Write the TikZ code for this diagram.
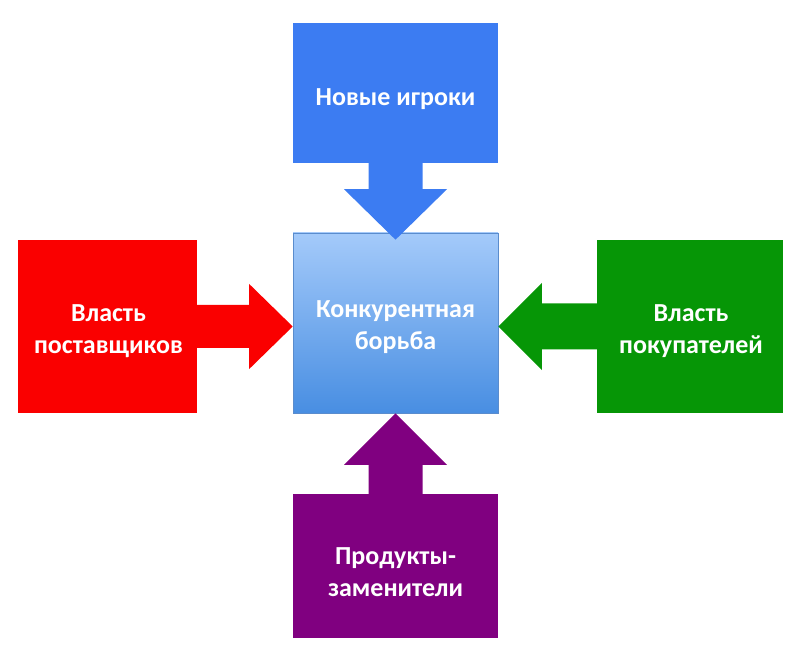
\documentclass[tikz,border=0pt]{standalone}
\usepackage{fontspec}
\setmainfont{Carlito}
\usetikzlibrary{calc}
\definecolor{newblue}{RGB}{60,124,242}
\definecolor{supred}{RGB}{250,0,0}
\definecolor{buygreen}{RGB}{6,150,6}
\definecolor{subpurple}{RGB}{128,0,128}
\definecolor{comptop}{RGB}{164,202,250}
\definecolor{compbot}{RGB}{72,142,226}
\definecolor{compline}{RGB}{90,140,205}
\begin{document}
\begin{tikzpicture}[x=1pt,y=-1pt]
	\tikzset{every node/.style={inner sep=0pt}}
	\tikzset{force/.style={rectangle, minimum width=205pt}}
	\tikzset{lbl/.style={text=white, align=center, font=\fontsize{26}{32}\selectfont\bfseries}}
	\useasboundingbox (0,0) rectangle (806,660);
	% centre
	\node [force, minimum height=180pt, top color=comptop, bottom color=compbot, draw=compline, line width=0.6pt] (comp) at (395.5,323) {};
	% four forces
	\node [force, minimum height=140pt, fill=newblue] (new) at (395.5,93) {};
	\node [force, minimum width=179pt, minimum height=173pt, fill=supred] (sup) at (107.5,326.5) {};
	\node [force, minimum width=186pt, minimum height=173pt, fill=buygreen] (buy) at (690,326.5) {};
	\node [force, minimum height=144pt, fill=subpurple] (sub) at (395.5,566) {};
	% arrows
	\fill [newblue] ($(new.south)+(-27,0)$) -- ++(0,26) -- ++(-24.5,0) -- ($(comp.north)+(0,7)$) -- ($(new.south)+(51.5,26)$) -- ++(-24.5,0) -- ($(new.south)+(27,0)$) -- cycle;
	\fill [supred] ($(sup.east)+(0,-21.5)$) -- ++(52,0) -- ++(0,-21) -- (sup.east -| comp.west) -- ($(sup.east)+(52,42.5)$) -- ++(0,-21) -- ($(sup.east)+(0,21.5)$) -- cycle;
	\fill [buygreen] ($(buy.west)+(0,-23)$) -- ++(-55,0) -- ++(0,-20.5) -- (buy.west -| comp.east) -- ($(buy.west)+(-55,43.5)$) -- ++(0,-20.5) -- ($(buy.west)+(0,23)$) -- cycle;
	\fill [subpurple] ($(sub.north)+(-27,0)$) -- ++(0,-29) -- ++(-24.5,0) -- (comp.south) -- ($(sub.north)+(51.5,-29)$) -- ++(-24.5,0) -- ($(sub.north)+(27,0)$) -- cycle;
	% labels
	\node [lbl] (complbl) at ($(comp)+(0,4)$) {Конкурентная\\борьба};
	\node [lbl] (newlbl) at ($(new)+(0,6)$) {Новые игроки};
	\node [lbl] (suplbl) at ($(sup)+(1,5)$) {Власть\\поставщиков};
	\node [lbl] (buylbl) at ($(buy)+(1,5)$) {Власть\\покупателей};
	\node [lbl] (sublbl) at ($(sub)+(0,6)$) {Продукты-\\заменители};
\end{tikzpicture}
\end{document}
